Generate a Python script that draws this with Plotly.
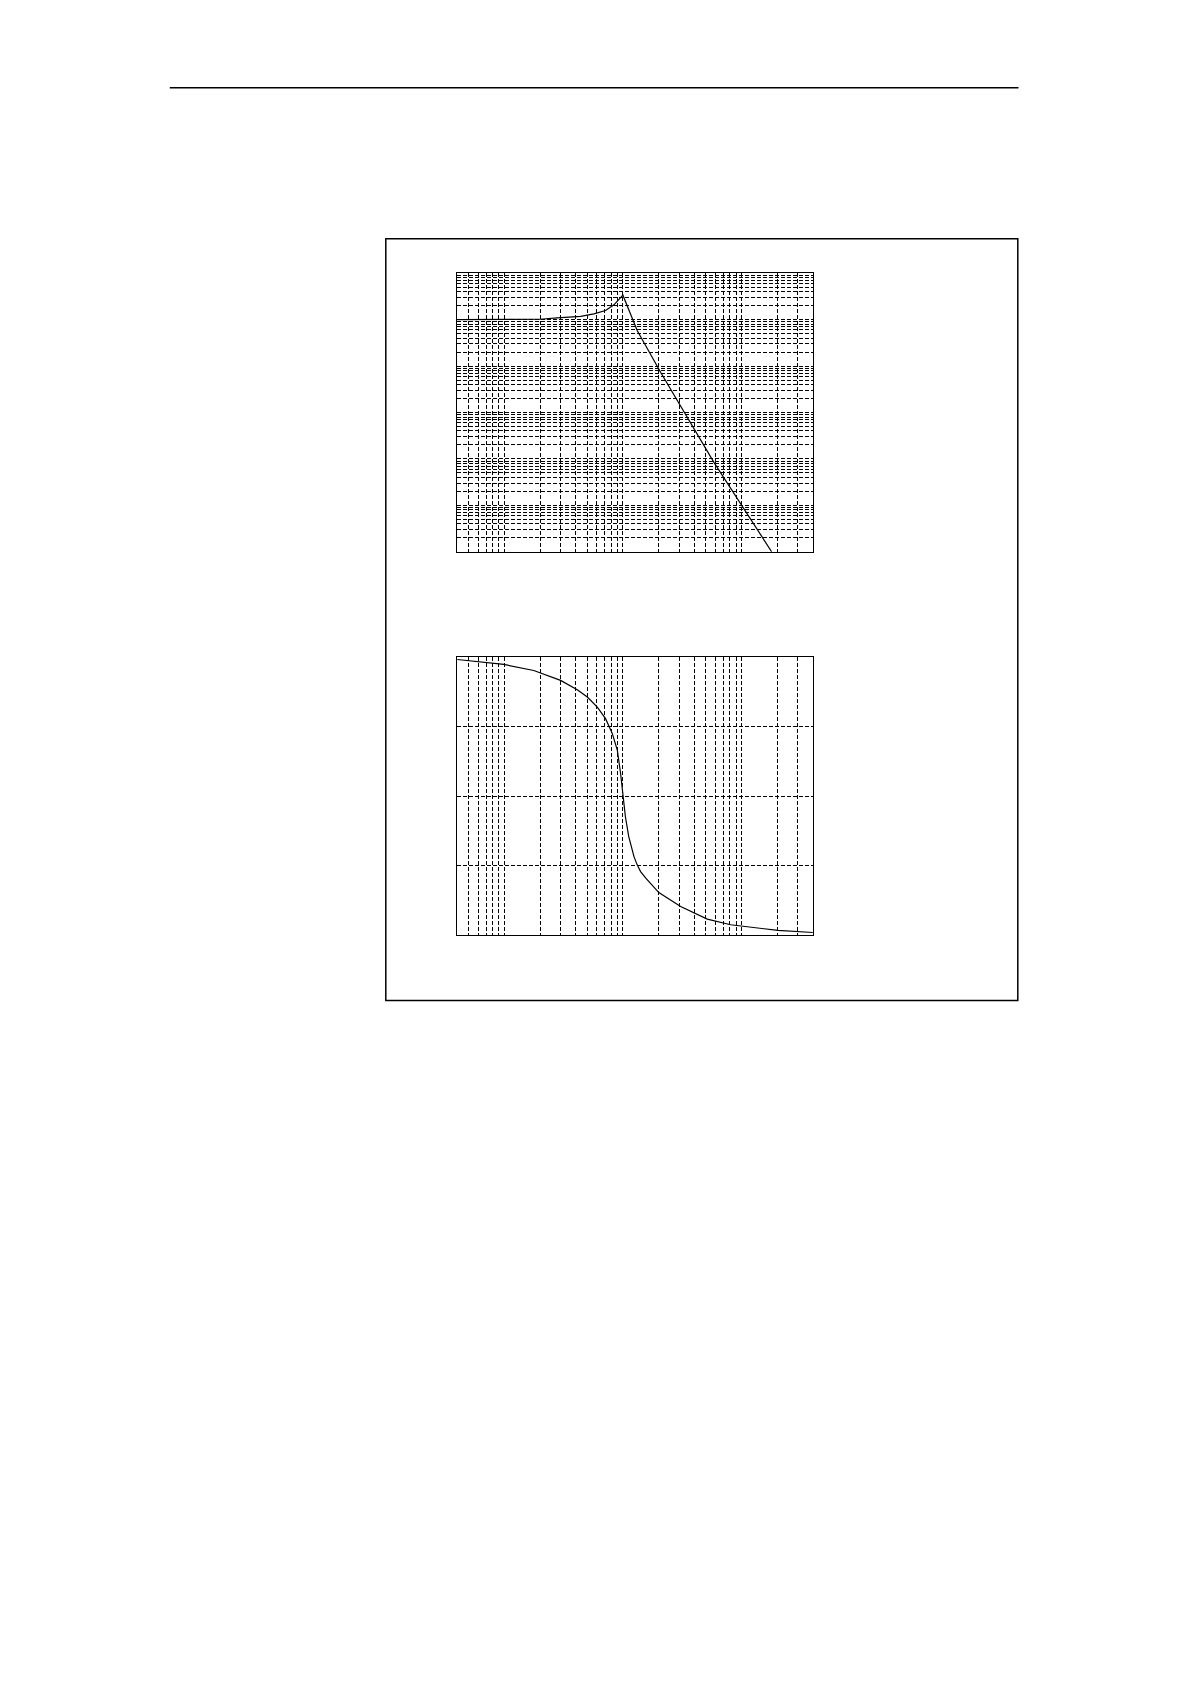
""" Bode diagram (magnitude and phase) of a resonant 4th-order system. """

import math
import plotly.graph_objects as go
from plotly.subplots import make_subplots


# Magnitude curve (frequency in rad/s, gain absolute)
mag_freq = [0.4, 1.0, 2.0, 2.79, 4.40, 5.69, 7.14, 8.40, 10.0,
            13.2, 20.8, 58.6, 98.4, 179.8]
mag_gain = [1.0, 1.0, 1.02, 1.09, 1.18, 1.33, 1.57, 2.08, 3.36,
            0.582, 0.0735, 8.45e-4, 1.07e-4, 1.0e-5]

# Phase curve (degrees)
phase_freq = [0.40, 0.99, 1.77, 2.98, 4.12, 5.01, 6.08, 7.14, 8.14, 8.97,
              9.56, 10.0, 10.5, 11.2, 12.4, 13.2, 14.1, 15.6, 20.1, 30.7,
              51.5, 81.1, 119.7, 203.0, 401.0]
phase_deg = [-3.0, -9.4, -17.2, -30.1, -42.2, -51.7, -64.7, -79.7, -99.1,
             -120.6, -150.8, -180.0, -206.9, -232.8, -258.6, -269.3, -278.0,
             -286.6, -305.2, -323.3, -339.6, -347.0, -350.5, -354.3, -357.0]

# Axis limits
freq_range  = [0.4, 400]
gain_range  = [1e-5, 1e1]
phase_range = [-360, 0]
phase_step  = 90

# Page geometry (pixels)
W, H = 1190, 1684

def px_x(x):
    return x / W

def px_y(y):
    return 1 - y / H


fig = make_subplots( rows=2, cols=1 )

fig.add_trace( go.Scatter( x=mag_freq, y=mag_gain, mode='lines',
                           line=dict( color='black', width=1.2 ),
                           showlegend=False ), row=1, col=1 )
fig.add_trace( go.Scatter( x=phase_freq, y=phase_deg, mode='lines',
                           line=dict( color='black', width=1.2 ),
                           showlegend=False ), row=2, col=1 )

# MATLAB-like dashed grid, no tick labels
grid = dict( showgrid=True, gridcolor='black', gridwidth=1,
             griddash='4px,2px', showline=True, linecolor='black',
             linewidth=1, mirror=True, showticklabels=False, ticks='',
             zeroline=False )

lx = [ math.log10( freq_range[0] ), math.log10( freq_range[1] ) ]

fig.update_xaxes( type='log', range=lx, dtick='D1', **grid )
fig.update_yaxes( type='log', range=[ math.log10( gain_range[0] ),
                                      math.log10( gain_range[1] ) ],
                  dtick='D1', row=1, col=1, **grid )
fig.update_yaxes( range=phase_range, dtick=phase_step, row=2, col=1, **grid )

fig.update_layout(
    width=W, height=H, margin=dict( l=0, r=0, t=0, b=0 ),
    paper_bgcolor='white', plot_bgcolor='white',
    xaxis=dict( domain=[ px_x( 449.2 ), px_x( 804.8 ) ] ),
    xaxis2=dict( domain=[ px_x( 449.2 ), px_x( 804.8 ) ] ),
    yaxis=dict( domain=[ px_y( 543.8 ), px_y( 265.2 ) ] ),
    yaxis2=dict( domain=[ px_y( 926.8 ), px_y( 649.2 ) ] ),
)

# Page header rule and the figure frame
fig.add_shape( type='line', xref='paper', yref='paper',
               x0=px_x( 161.8 ), x1=px_x( 1010.5 ), y0=px_y( 79.8 ), y1=px_y( 79.8 ),
               line=dict( color='black', width=1.5 ) )
fig.add_shape( type='rect', xref='paper', yref='paper',
               x0=px_x( 377.8 ), x1=px_x( 1009.8 ), y0=px_y( 992.5 ), y1=px_y( 230.8 ),
               line=dict( color='black', width=1.5 ) )

fig.write_html( "out.html" )
